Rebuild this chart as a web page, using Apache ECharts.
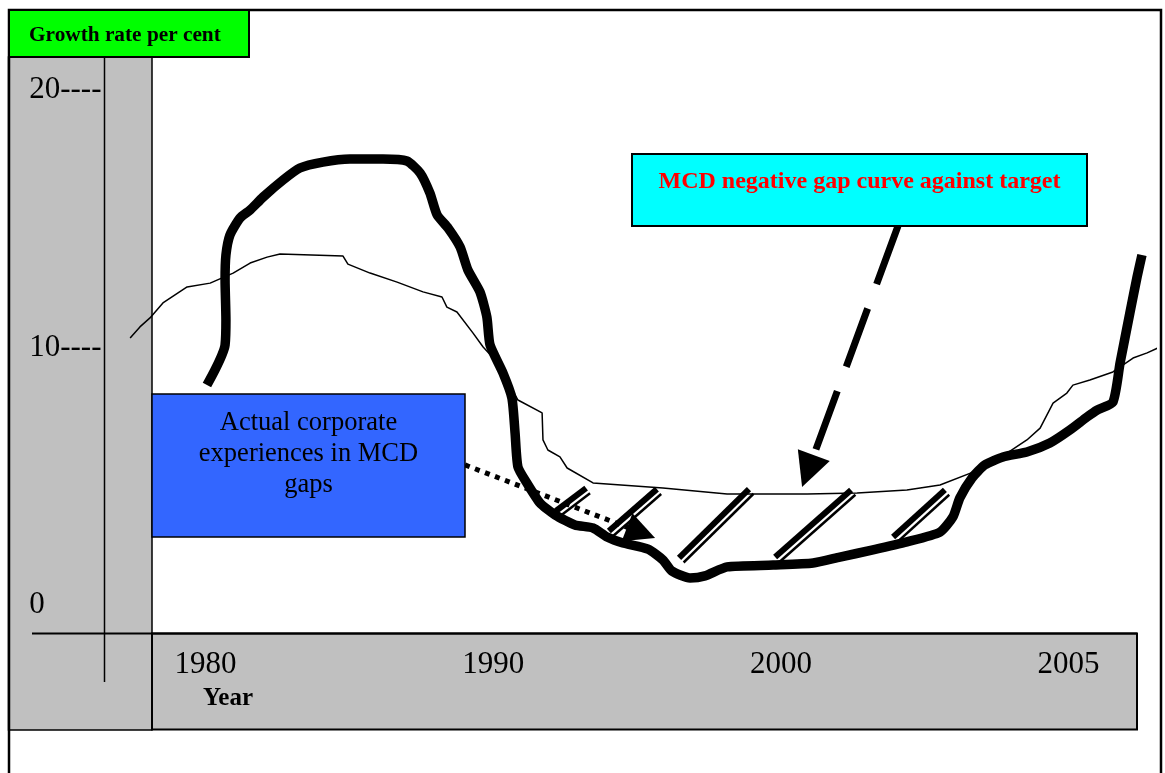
<!DOCTYPE html>
<html>
<head>
<meta charset="utf-8">
<title>MCD gap curve</title>
<script src="https://cdn.jsdelivr.net/npm/echarts@6/dist/echarts.min.js"></script>
<style>
  html, body { margin: 0; padding: 0; background: #fff; }
  #chart { width: 1165px; height: 773px; }
</style>
</head>
<body>
<div id="chart"></div>
<script>
// axis ticks and the labels printed at them
var xTickValues = [1980, 1990, 2000, 2010];
var xTickLabels = ['1980', '1990', '2000', '2005'];
var yTickValues = [0, 10, 20];
var yTickLabels = ['0', '10----', '20----'];

// thick curve - actual corporate experience
var actualX = [1980.05, 1980.33, 1980.57, 1980.68, 1980.71, 1980.68, 1980.71, 1980.85, 1981.2, 1981.55,
  1982.0, 1982.69, 1983.28, 1984.08, 1985.02, 1986.17, 1987.0, 1987.46, 1987.8, 1988.05,
  1988.43, 1988.85, 1989.12, 1989.54, 1989.78, 1989.89, 1990.34, 1990.65, 1990.76, 1990.86,
  1991.17, 1991.63, 1992.15, 1992.84, 1993.47, 1993.96, 1994.51, 1995.38, 1995.9, 1996.21,
  1996.84, 1997.36, 1998.13, 1999.73, 2001.12, 2002.05, 2003.2, 2004.38, 2005.53, 2005.98,
  2006.22, 2006.64, 2007.09, 2007.72, 2008.55, 2009.35, 2010.05, 2010.64, 2010.99, 2011.54,
  2011.79, 2012.13, 2012.38, 2012.55];
var actualY = [8.54, 9.13, 9.71, 10.10, 11.07, 12.62, 13.59, 14.37, 15.03, 15.34,
  15.84, 16.50, 16.97, 17.20, 17.32, 17.32, 17.24, 16.78, 16.0, 15.15,
  14.64, 13.90, 13.01, 12.16, 11.18, 10.10, 9.01, 8.04, 6.68, 5.36,
  4.74, 3.96, 3.50, 3.11, 2.99, 2.64, 2.41, 2.17, 1.75, 1.32,
  1.05, 1.13, 1.48, 1.55, 1.63, 1.86, 2.14, 2.45, 2.83, 3.42,
  4.16, 4.93, 5.44, 5.75, 5.94, 6.29, 6.80, 7.30, 7.57, 7.88,
  9.40, 11.34, 12.74, 13.59];

// thin curve - target
var targetX = [1977.38, 1977.72, 1978.07, 1978.52, 1979.36, 1980.16, 1980.96, 1981.55, 1982.14, 1982.59,
  1984.78, 1984.95, 1985.72, 1986.66, 1987.56, 1988.22, 1988.39, 1988.74, 1989.3, 1989.65,
  1990.13, 1990.86, 1991.7, 1991.73, 1991.9, 1992.32, 1992.57, 1993.47, 1995.9, 1998.13,
  2000.91, 2002.65, 2004.38, 2005.53, 2006.68, 2007.86, 2008.55, 2009.01, 2009.46, 2009.94,
  2010.15, 2010.74, 2011.54, 2012.24, 2012.73, 2013.18];
var targetY = [10.37, 10.80, 11.15, 11.73, 12.35, 12.50, 12.89, 13.28, 13.51, 13.63,
  13.55, 13.24, 12.89, 12.54, 12.16, 11.96, 11.57, 11.38, 10.56, 10.02,
  9.44, 7.96, 7.46, 6.41, 6.02, 5.75, 5.32, 4.74, 4.54, 4.31,
  4.31, 4.35, 4.47, 4.66, 5.16, 5.90, 6.41, 6.87, 7.84, 8.23,
  8.54, 8.74, 9.05, 9.59, 9.79, 10.02];

// hatch marks across the gap
var hatchFromX = [1992.18, 1994.02, 1996.46, 1999.80, 2003.90];
var hatchFromY = [3.65, 2.87, 1.83, 1.86, 2.64];
var hatchToX = [1993.23, 1995.69, 1998.89, 2002.44, 2005.70];
var hatchToY = [4.54, 4.50, 4.50, 4.47, 4.47];

// arrows from the two note boxes
var gapArrow = [[2004.07, 14.72], [2000.94, 5.20]];
var actualArrow = [[1989.02, 5.44], [1995.14, 2.81]];

function zip(xs, ys) {
  return xs.map(function (x, i) { return [x, ys[i]]; });
}

var hatchData = hatchFromX.map(function (x, i) {
  return [x, hatchFromY[i], hatchToX[i], hatchToY[i]];
});

var serif = '"Liberation Serif", "Times New Roman", serif';

var option = {
  backgroundColor: '#fff',
  animation: false,
  grid: { left: 119.2, right: 10.1, top: 90, bottom: 168, outerBoundsMode: 'none' },
  xAxis: {
    type: 'value',
    min: 1977,
    max: 2013,
    axisLine: { show: false },
    axisTick: { show: false },
    splitLine: { show: false },
    axisLabel: {
      customValues: xTickValues,
      formatter: function (v) { return xTickLabels[xTickValues.indexOf(v)]; },
      fontFamily: serif,
      fontSize: 31,
      color: '#000',
      verticalAlign: 'middle',
      margin: 60
    }
  },
  yAxis: {
    type: 'value',
    min: 0,
    max: 20,
    interval: 10,
    axisLine: { show: false },
    axisTick: { show: false },
    splitLine: { show: false },
    axisLabel: {
      formatter: function (v) { return yTickLabels[yTickValues.indexOf(v)]; },
      fontFamily: serif,
      fontSize: 31,
      color: '#000',
      align: 'left',
      margin: 90
    }
  },
  graphic: [
    // grey axis bands
    { type: 'rect', z: -10, shape: { x: 8.5, y: 57, width: 143.5, height: 673 },
      style: { fill: '#C0C0C0', stroke: '#000', lineWidth: 1.5 } },
    { type: 'rect', z: -10, shape: { x: 152, y: 633.5, width: 985, height: 96 },
      style: { fill: '#C0C0C0', stroke: '#000', lineWidth: 2 } },
    { type: 'line', z: -9, shape: { x1: 104.5, y1: 57, x2: 104.5, y2: 682 },
      style: { stroke: '#000', lineWidth: 1.5 } },
    { type: 'line', z: -9, shape: { x1: 32, y1: 633.5, x2: 1137, y2: 633.5 },
      style: { stroke: '#000', lineWidth: 2 } },
    // outer frame
    { type: 'rect', z: -9, shape: { x: 9, y: 10, width: 1152, height: 800 },
      style: { fill: 'none', stroke: '#000', lineWidth: 2.5 } },
    // y axis title box
    { type: 'rect', z: 10, shape: { x: 9, y: 10, width: 240, height: 47 },
      style: { fill: '#00FF00', stroke: '#000', lineWidth: 2 } },
    { type: 'text', z: 11, style: { text: 'Growth rate per cent', x: 29, y: 35,
      font: 'bold 21.3px ' + serif, fill: '#000', align: 'left', verticalAlign: 'middle' } },
    // x axis title
    { type: 'text', z: 11, style: { text: 'Year', x: 228, y: 699,
      font: 'bold 25px ' + serif, fill: '#000', align: 'center', verticalAlign: 'middle' } },
    // gap note
    { type: 'rect', z: 10, shape: { x: 632, y: 154, width: 455, height: 72 },
      style: { fill: '#00FFFF', stroke: '#000', lineWidth: 2 } },
    { type: 'text', z: 11, style: { text: 'MCD negative gap curve against target', x: 859.5, y: 182,
      font: 'bold 24px ' + serif, fill: '#FF0000', align: 'center', verticalAlign: 'middle' } },
    // actual note
    { type: 'rect', z: 10, shape: { x: 152, y: 394, width: 313, height: 143 },
      style: { fill: '#3366FF', stroke: '#000', lineWidth: 1.5 } },
    { type: 'text', z: 11, style: { text: 'Actual corporate\nexperiences in MCD\ngaps', x: 308.5, y: 454,
      font: '26.5px ' + serif, lineHeight: 31, fill: '#000', align: 'center', verticalAlign: 'middle' } }
  ],
  series: [
    {
      name: 'Target',
      type: 'line',
      data: zip(targetX, targetY),
      showSymbol: false,
      clip: false,
      z: 3,
      lineStyle: { color: '#000', width: 1.5 }
    },
    {
      name: 'Actual',
      type: 'line',
      data: zip(actualX, actualY),
      showSymbol: false,
      clip: false,
      smooth: 0.2,
      z: 4,
      lineStyle: { color: '#000', width: 9.5, cap: 'butt', join: 'round' }
    },
    {
      name: 'Gap',
      type: 'custom',
      data: hatchData,
      encode: { x: [0, 2], y: [1, 3] },
      z: 5,
      renderItem: function (params, api) {
        var a = api.coord([api.value(0), api.value(1)]);
        var b = api.coord([api.value(2), api.value(3)]);
        var dx = b[0] - a[0], dy = b[1] - a[1];
        var len = Math.sqrt(dx * dx + dy * dy);
        var ox = -dy / len * 6.5, oy = dx / len * 6.5;
        return {
          type: 'group',
          children: [
            { type: 'line', shape: { x1: a[0], y1: a[1], x2: b[0], y2: b[1] },
              style: { stroke: '#000', lineWidth: 6 } },
            { type: 'line', shape: { x1: a[0] + ox, y1: a[1] + oy, x2: b[0] + ox, y2: b[1] + oy },
              style: { stroke: '#000', lineWidth: 2.5 } }
          ]
        };
      }
    },
    {
      type: 'lines',
      coordinateSystem: 'cartesian2d',
      z: 6,
      data: [{ coords: gapArrow }],
      symbol: ['none', 'triangle'],
      symbolSize: [35, 34],
      itemStyle: { color: '#000' },
      lineStyle: { color: '#000', width: 7, type: [62, 26], opacity: 1, curveness: 0 }
    },
    {
      type: 'lines',
      coordinateSystem: 'cartesian2d',
      z: 6,
      data: [{ coords: actualArrow }],
      symbol: ['none', 'triangle'],
      symbolSize: [26, 30],
      itemStyle: { color: '#000' },
      lineStyle: { color: '#000', width: 5, type: [5, 5.7], opacity: 1, curveness: 0 }
    }
  ]
};

var chart = echarts.init(document.getElementById('chart'));
chart.setOption(option);
</script>
</body>
</html>
